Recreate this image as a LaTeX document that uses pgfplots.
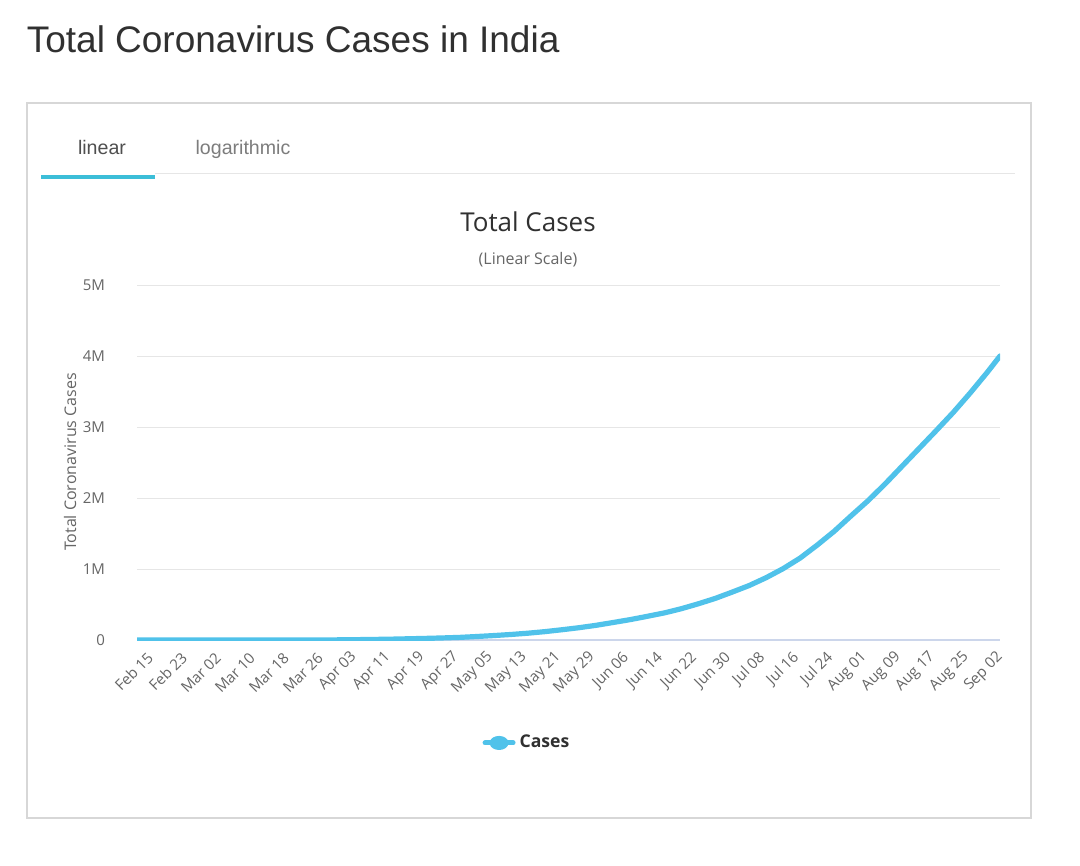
\documentclass[border=0pt]{standalone}
\usepackage{fontspec}
\setmainfont{Open Sans}
\newfontfamily\titlefont{Liberation Sans}
\usepackage{pgfplots}
\pgfplotsset{compat=1.18}
\definecolor{linecyan}{RGB}{80,194,234}
\definecolor{tabcyan}{RGB}{60,190,216}
\definecolor{titlegray}{RGB}{48,48,48}
\definecolor{textgray}{RGB}{102,102,102}
\definecolor{boxgray}{RGB}{215,215,215}
\definecolor{gridgray}{RGB}{230,230,230}
\definecolor{axisgray}{RGB}{204,214,235}

\pgfplotstableread{
day cases
0 3
8 3
15 3
16 5
20 31
24 62
28 102
32 171
36 374
40 727
44 1251
48 2567
52 5351
56 8446
60 12370
64 17615
68 23039
72 29451
76 37257
80 49436
84 62939
88 78055
92 96169
96 118226
100 144950
104 173491
108 207191
112 246628
116 287155
120 333008
124 381091
128 440215
132 509446
136 585493
140 674825
144 767296
148 878254
152 1005637
156 1154917
160 1336861
164 1531669
168 1750723
172 1964536
176 2200000
180 2450000
184 2700000
188 2950000
192 3205000
196 3480000
200 3770000
203 4000000
}\indiacases

\begin{document}
\begin{tikzpicture}
\path[use as bounding box, fill=white] (0pt,0pt) rectangle (540pt,-433pt);
% page title
\node[anchor=base west, inner sep=0, font=\titlefont\fontsize{18.5}{22}\selectfont, text=titlegray] at (13.2pt,-26.5pt) {Total Coronavirus Cases in India};
% frame
\draw[boxgray, line width=0.6pt] (13.5pt,-51.5pt) rectangle (515.5pt,-409pt);
% tabs
\node[anchor=base, inner sep=0, font=\titlefont\fontsize{9.8}{12}\selectfont, text=titlegray!85] at (51pt,-77.5pt) {linear};
\node[anchor=base, inner sep=0, font=\titlefont\fontsize{9.8}{12}\selectfont, text=textgray!85] at (121.5pt,-77.5pt) {logarithmic};
\draw[gridgray, line width=0.5pt] (77.5pt,-87pt) -- (507.5pt,-87pt);
\draw[tabcyan, line width=2pt] (20.5pt,-88.5pt) -- (77.5pt,-88.5pt);
% chart title
\node[anchor=base, inner sep=0, font=\fontsize{13}{15}\selectfont, text=titlegray] at (264pt,-116pt) {Total Cases};
\node[anchor=base, inner sep=0, font=\fontsize{8}{10}\selectfont, text=textgray] at (264pt,-132pt) {(Linear Scale)};
% y label
\node[rotate=90, inner sep=0, font=\fontsize{8}{10}\selectfont, text=textgray] at (35pt,-231pt) {Total Coronavirus Cases};

\begin{axis}[
  at={(68.5pt,-320pt)}, anchor=south west,
  scale only axis, width=431.5pt, height=177.5pt,
  xmin=0, xmax=203, ymin=0, ymax=5000000,
  axis line style={draw=none},
  axis x line*=bottom,
  x axis line style={draw=axisgray, line width=0.6pt},
  ymajorgrids, grid style={gridgray, line width=0.5pt},
  major tick length=0pt,
  scaled y ticks=false,
  ytick={0,1000000,2000000,3000000,4000000,5000000},
  yticklabels={0,1M,2M,3M,4M,5M},
  yticklabel style={font=\fontsize{7.5}{9}\selectfont, text=textgray, anchor=east, xshift=-12.5pt},
  xtick={0,8,...,200},
  xticklabels={Feb 15,Feb 23,Mar 02,Mar 10,Mar 18,Mar 26,Apr 03,Apr 11,Apr 19,Apr 27,May 05,May 13,May 21,May 29,Jun 06,Jun 14,Jun 22,Jun 30,Jul 08,Jul 16,Jul 24,Aug 01,Aug 09,Aug 17,Aug 25,Sep 02},
  xticklabel style={font=\fontsize{7.5}{9}\selectfont, text=textgray, rotate=45, anchor=east, yshift=-10pt, xshift=0.5pt, inner sep=1pt},
  legend style={at={(axis description cs:0.453,-0.29)}, anchor=center, draw=none, fill=none,
    font=\bfseries\fontsize{8.8}{10}\selectfont, text=titlegray},
  legend image code/.code={\draw[line width=2.5pt, linecyan] (0pt,0pt) -- (14pt,0pt); \fill[linecyan] (7pt,0pt) ellipse (3.4pt and 2.2pt);},
]
\addplot[linecyan, line width=2.6pt, line join=round, line cap=round] table[x=day, y=cases] {\indiacases};
\addlegendentry{Cases}
\end{axis}
\end{tikzpicture}
\end{document}
